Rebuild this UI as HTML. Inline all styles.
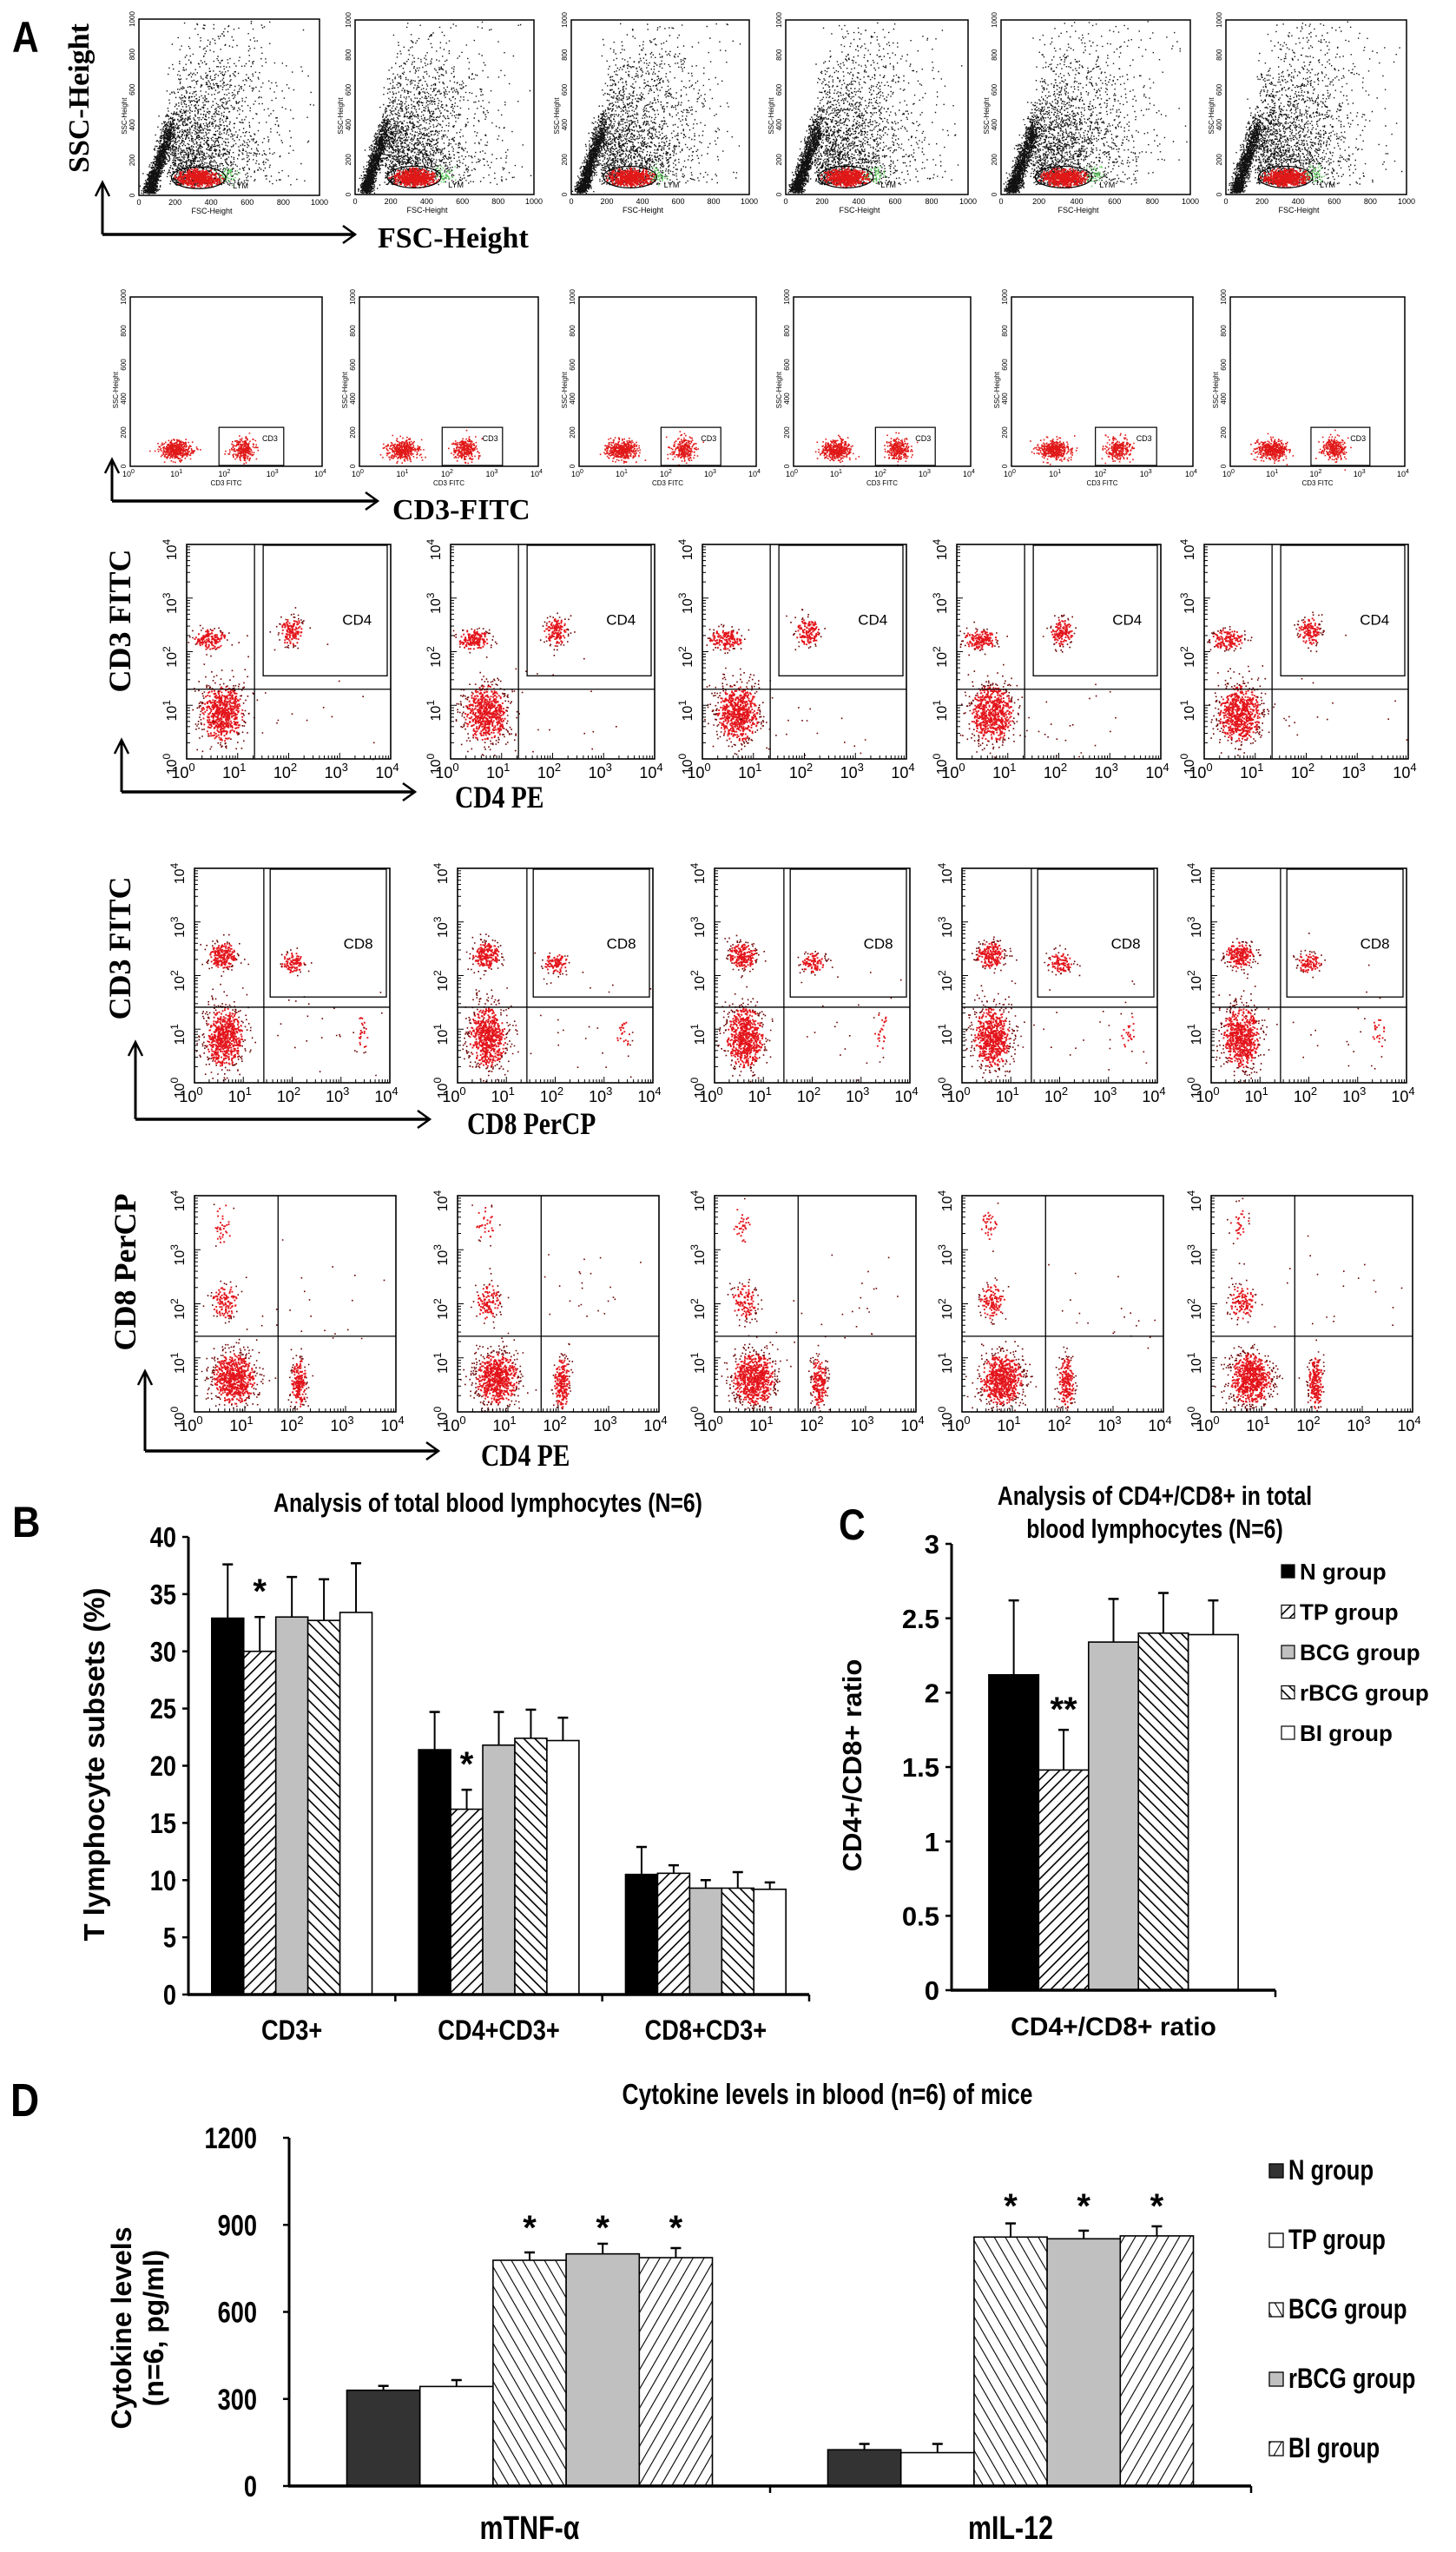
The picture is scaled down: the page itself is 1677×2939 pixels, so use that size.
<!DOCTYPE html>
<html><head><meta charset="utf-8"><title>Flow cytometry and T-cell / cytokine analysis</title>
<style>
html,body{margin:0;padding:0;background:#fff;}
svg{display:block;}
text{font-family:"Liberation Sans",Arial,sans-serif;}
.serif{font-family:"Liberation Serif","Times New Roman",serif;font-weight:bold;}
</style></head>
<body>
<svg id="root" xmlns="http://www.w3.org/2000/svg" width="1677" height="2939" viewBox="0 0 1677 2939">
<defs>
<pattern id="hFwd" width="9" height="9" patternUnits="userSpaceOnUse" patternTransform="rotate(45)"><rect width="9" height="9" fill="#fff"/><line x1="0" y1="0" x2="0" y2="9" stroke="#000" stroke-width="3.2"/></pattern>
<pattern id="hBack" width="9" height="9" patternUnits="userSpaceOnUse" patternTransform="rotate(-45)"><rect width="9" height="9" fill="#fff"/><line x1="0" y1="0" x2="0" y2="9" stroke="#000" stroke-width="3.2"/></pattern>
<pattern id="dFwd" width="11" height="11" patternUnits="userSpaceOnUse" patternTransform="rotate(30)"><rect width="11" height="11" fill="#fff"/><line x1="0" y1="0" x2="0" y2="11" stroke="#000" stroke-width="2.2"/></pattern>
<pattern id="dBack" width="11" height="11" patternUnits="userSpaceOnUse" patternTransform="rotate(-30)"><rect width="11" height="11" fill="#fff"/><line x1="0" y1="0" x2="0" y2="11" stroke="#000" stroke-width="2.2"/></pattern>
</defs>
</svg>
<script>
// ---------------- chart data ----------------
const groups = ['N group','TP group','BCG group','rBCG group','BI group'];
// Panel B
const bCategories = ['CD3+','CD4+CD3+','CD8+CD3+'];
const bN    = [32.9, 21.4, 10.5];
const bTP   = [30.0, 16.2, 10.6];
const bBCG  = [33.0, 21.8, 9.3];
const bRBCG = [32.7, 22.4, 9.3];
const bBI   = [33.4, 22.2, 9.2];
const bNErr    = [4.7, 3.3, 2.4];
const bTPErr   = [3.0, 1.7, 0.7];
const bBCGErr  = [3.5, 2.9, 0.7];
const bRBCGErr = [3.6, 2.5, 1.4];
const bBIErr   = [4.3, 2.0, 0.6];
const bTicks = [0,5,10,15,20,25,30,35,40];
const bStars = [[1,0,'*'],[1,1,'*']]; // [groupIndex, categoryIndex, label]
// Panel C
const cCategories = ['CD4+/CD8+ ratio'];
const cValues = [2.12, 1.48, 2.34, 2.40, 2.39];
const cErr    = [0.50, 0.27, 0.29, 0.27, 0.23];
const cTicks = [0,0.5,1,1.5,2,2.5,3];
const cTickLabels = ['0','0.5','1','1.5','2','2.5','3'];
// Panel D
const dCategories = ['mTNF-\u03b1','mIL-12'];
const dN    = [330, 125];
const dTP   = [343, 115];
const dBCG  = [778, 858];
const dRBCG = [800, 852];
const dBI   = [787, 862];
const dNErr    = [15, 20];
const dTPErr   = [22, 30];
const dBCGErr  = [27, 47];
const dRBCGErr = [35, 28];
const dBIErr   = [33, 33];
const dTicks = [0,300,600,900,1200];

// ---------------- helpers ----------------
const NS='http://www.w3.org/2000/svg';
const svg=document.getElementById('root');
function mk(tag,attrs,parent){const e=document.createElementNS(NS,tag);for(const k in attrs)e.setAttribute(k,attrs[k]);(parent||svg).appendChild(e);return e;}
function txt(x,y,s,size,opts){opts=opts||{};
  const t=mk('text',{x:x,y:y,'font-size':size,'text-anchor':opts.anchor||'start','font-weight':opts.weight||'bold',fill:opts.fill||'#000'},opts.parent);
  if(opts.cls)t.setAttribute('class',opts.cls);
  if(opts.rot!==undefined)t.setAttribute('transform','rotate('+opts.rot+' '+x+' '+y+')');
  if(opts.sx)t.setAttribute('transform','translate('+x+' '+y+') scale('+opts.sx+' 1) translate('+(-x)+' '+(-y)+')');
  t.textContent=s;return t;}
function line(x1,y1,x2,y2,w,parent,col){return mk('line',{x1:x1,y1:y1,x2:x2,y2:y2,stroke:col||'#000','stroke-width':w},parent);}
let seed=12345;
function rnd(){seed|=0;seed=seed+0x6D2B79F5|0;let t=Math.imul(seed^seed>>>15,1|seed);t=t+Math.imul(t^t>>>7,61|t)^t;return((t^t>>>14)>>>0)/4294967296;}
function gau(){let u=0,v=0;while(u===0)u=rnd();v=rnd();return Math.sqrt(-2*Math.log(u))*Math.cos(2*Math.PI*v);}
function dotPath(pts,color,sz,parent,name){let d='';for(const p of pts)d+='M'+p[0].toFixed(1)+' '+p[1].toFixed(1)+'h'+sz+'v'+sz+'h-'+sz+'z';
  const p=mk('path',{d:d,fill:color},parent);
  
  
  return p;}
function arrowH(x1,x2,y,parent){line(x1,y,x2,y,3.5,parent);mk('polyline',{points:(x2-14)+','+(y-10)+' '+x2+','+y+' '+(x2-14)+','+(y+10),fill:'none',stroke:'#000','stroke-width':2.5},parent);}
function arrowV(x,y1,y2,parent){line(x,y1,x,y2,3,parent);mk('polyline',{points:(x-8)+','+(y2+16)+' '+x+','+y2+' '+(x+8)+','+(y2+16),fill:'none',stroke:'#000','stroke-width':2.5},parent);}

// ---------------- Panel A ----------------
const gA=mk('g',{});


const la=txt(14,60,'A',50,{parent:gA,sx:0.85});



// Row 1 : FSC vs SSC
const row1Boxes=[[160,22,208,203],[409,23,206,201],[658,23,205,201],[905,23,210,201],[1153,23,218,201],[1412,23,208,201]];
row1Boxes.forEach((b,i)=>{
  const g=mk('g',{},gA);
  
  
  const [bx,by,bw,bh]=b;
  const px=v=>bx+v/1000*bw, py=v=>by+bh-v/1000*bh;
  const blk=[];
  for(let k=0;k<1500;k++){const u=Math.pow(rnd(),1.4);const x=55+u*120+gau()*18;const y=10+u*330+Math.abs(gau())*60*(0.3+u);if(x>2&&x<995&&y>2&&y<995)blk.push([px(x),py(y)]);}
  for(let k=0;k<2000;k++){const x=150+Math.abs(gau())*260+rnd()*60;const y=60+Math.abs(gau())*(200+x*0.5);if(x<995&&y<995)blk.push([px(x),py(y)]);}
  dotPath(blk,'#111',1.4,g,'scatter-dots');
  const red=[];
  for(let k=0;k<650;k++){const x=330+gau()*60,y=100+gau()*25;if(((x-330)/145)**2+((y-100)/58)**2<1)red.push([px(x),py(y)]);}
  dotPath(red,'#e01818',1.8,g,'lymphocyte-dots');
  const grn=[];for(let k=0;k<50;k++)grn.push([px(490+gau()*25),py(120+gau()*25)]);
  dotPath(grn,'#5c5',1.4,g,'green-dots');
  mk('ellipse',{cx:px(330),cy:py(100),rx:150/1000*bw,ry:62/1000*bh,fill:'none',stroke:'#000','stroke-width':1.2},g);
  txt(px(520),py(40),'LYM',9,{parent:g,weight:'normal'});
  mk('rect',{x:bx,y:by,width:bw,height:bh,fill:'none',stroke:'#000','stroke-width':1.5},g);
  [0,200,400,600,800,1000].forEach(v=>{txt(px(v),by+bh+11,String(v),9,{parent:g,anchor:'middle',weight:'normal'});
    txt(bx-5,py(v),String(v),8,{parent:g,anchor:'middle',weight:'normal',rot:-90});});
  txt(bx+bw/2-20,by+bh+21,'FSC-Height',9,{parent:g,anchor:'middle',weight:'normal'});
  txt(bx-14,py(450),'SSC-Height',8,{parent:g,anchor:'middle',weight:'normal',rot:-90});
});
const t1=txt(102,113,'SSC-Height',34,{parent:gA,anchor:'middle',rot:-90,cls:'serif'});


arrowV(118,270,210,gA);arrowH(118,409,270,gA);
const t2=txt(435,285,'FSC-Height',34,{parent:gA,cls:'serif'});



// Row 2 : CD3 vs SSC
const row2Boxes=[[150,342,221,195],[414,342,206,195],[667,342,204,195],[914,342,204,195],[1165,342,209,195],[1417,342,201,195]];
row2Boxes.forEach((b,i)=>{
  const g=mk('g',{},gA);
  
  
  const [bx,by,bw,bh]=b;
  const px=v=>bx+v/4*bw, py=v=>by+bh-v/1000*bh;
  const pts=[];
  for(let k=0;k<450;k++)pts.push([px(0.95+gau()*0.17),py(100+gau()*28)]);
  for(let k=0;k<280;k++)pts.push([px(2.35+gau()*0.13),py(105+gau()*32)]);
  dotPath(pts,'#e01818',1.6,g,'cd3-dots');
  mk('rect',{x:px(1.85),y:py(230),width:px(3.2)-px(1.85),height:py(5)-py(230),fill:'none',stroke:'#000','stroke-width':1.2},g);
  txt(px(2.75),py(150),'CD3',9,{parent:g,weight:'normal'});
  mk('rect',{x:bx,y:by,width:bw,height:bh,fill:'none',stroke:'#000','stroke-width':1.5},g);
  for(let d=0;d<=4;d++){const tt=txt(px(d)-2,by+bh+12,'10',9,{parent:g,anchor:'middle',weight:'normal'});
    const ts=mk('tspan',{dy:-4,'font-size':7},tt);ts.textContent=String(d);}
  [0,200,400,600,800,1000].forEach(v=>txt(bx-5,py(v),String(v),8,{parent:g,anchor:'middle',weight:'normal',rot:-90}));
  txt(bx+bw/2,by+bh+22,'CD3 FITC',8,{parent:g,anchor:'middle',weight:'normal'});
  txt(bx-14,py(450),'SSC-Height',8,{parent:g,anchor:'middle',weight:'normal',rot:-90});
});
arrowV(129,577,529,gA);arrowH(129,435,577,gA);
const t3=txt(452,598,'CD3-FITC',34,{parent:gA,cls:'serif'});



// Rows 3-5 : log-log quadrant plots
const quadRows=[
 {xs:[215,519,809,1102,1387],y:627,w:235,h:247,vq:1.33,hq:1.3,gate:[1.5,1.55],glabel:'CD4',
  clusters:[[0.68,0.86,0.22,0.28,700],[0.45,2.24,0.17,0.1,170],[2.05,2.38,0.12,0.14,150]],sparse:[2,0.8]},
 {xs:[224,527,823,1108,1395],y:1000,w:225,h:247,vq:1.42,hq:1.41,gate:[1.55,1.6],glabel:'CD8',
  clusters:[[0.6,0.86,0.2,0.3,700],[0.57,2.39,0.15,0.13,230],[2.0,2.25,0.13,0.1,110],[3.4,0.95,0.08,0.2,25]],sparse:[2.6,1.0]},
 {xs:[224,527,823,1108,1395],y:1377,w:232,h:249,vq:1.66,hq:1.4,gate:null,glabel:'',
  clusters:[[0.77,0.62,0.22,0.25,750],[2.06,0.55,0.08,0.25,220],[0.59,2.05,0.13,0.17,130],[0.55,3.5,0.1,0.2,35]],sparse:[2.5,2.0]}
];
quadRows.forEach((r,ri)=>{
  r.xs.forEach((bx,i)=>{
    const g=mk('g',{},gA);
    
    
    const by=r.y,bw=r.w,bh=r.h;
    const px=v=>bx+v/4*bw, py=v=>by+bh-v/4*bh;
    const pts=[],dark=[];
    r.clusters.forEach(c=>{for(let k=0;k<c[4];k++){const x=c[0]+gau()*c[2],y=c[1]+gau()*c[3];
      if(x>0.02&&x<3.98&&y>0.02&&y<3.98){const d=((x-c[0])/c[2])**2+((y-c[1])/c[3])**2;(d>3.5?dark:pts).push([px(x),py(y)]);}}});
    for(let k=0;k<25;k++)dark.push([px(r.sparse[0]+gau()*0.9),py(r.sparse[1]+gau()*0.6)]);
    dotPath(pts,'#e3141b',1.9,g,'event-dots');
    dotPath(dark.filter(p=>p[0]>bx&&p[0]<bx+bw&&p[1]>by&&p[1]<by+bh),'#6a0000',1.6,g,'sparse-event-dots');
    line(px(r.vq),by,px(r.vq),by+bh,1.3,g);
    line(bx,py(r.hq),bx+bw,py(r.hq),1.3,g);
    if(r.gate){mk('rect',{x:px(r.gate[0]),y:by+1,width:bx+bw-4-px(r.gate[0]),height:py(r.gate[1])-by-1,fill:'none',stroke:'#000','stroke-width':1.3},g);
      txt(px(3.05),py(2.5),r.glabel,17,{parent:g,weight:'normal'});}
    mk('rect',{x:bx,y:by,width:bw,height:bh,fill:'none',stroke:'#000','stroke-width':1.6},g);
    for(let d=0;d<4;d++)for(let m=1;m<10;m++){const v=d+Math.log10(m);const L=m===1?7:4;
      line(px(v),by+bh,px(v),by+bh-L,1,g);line(bx,py(v),bx+L,py(v),1,g);}
    for(let d=0;d<=4;d++){
      const t=txt(px(d)-4,by+bh+22,'10',18,{parent:g,anchor:'middle',weight:'normal'});
      const s=mk('tspan',{dy:-8,'font-size':13},t);s.textContent=String(d);
      const t2=txt(bx-12,py(d)+6,'10',16,{parent:g,anchor:'middle',weight:'normal',rot:-90});
      const s2=mk('tspan',{dy:-7,'font-size':12},t2);s2.textContent=String(d);
    }
  });
});
const rowTitles=[
 ['CD3 FITC',150,715,true],['CD4 PE',524,930,false],
 ['CD3 FITC',150,1092,true],['CD8 PerCP',538,1306,false],
 ['CD8 PerCP',156,1465,true],['CD4 PE',554,1688,false]];
rowTitles.forEach((r,i)=>{
  const t=r[3]?txt(r[1],r[2],r[0],36,{parent:gA,anchor:'middle',rot:-90,cls:'serif'}):txt(r[1],r[2],r[0],36,{parent:gA,cls:'serif',sx:0.82});
  
  
});
arrowV(140,912,852,gA);arrowH(140,478,912,gA);
arrowV(156,1289,1200,gA);arrowH(156,495,1289,gA);
arrowV(167,1671,1579,gA);arrowH(167,505,1671,gA);

// ---------------- generic bar chart ----------------
function barChart(cfg){
  const g=mk('g',{});
  
  
  const yS=v=>cfg.y0-(v-cfg.min)/(cfg.max-cfg.min)*(cfg.y0-cfg.yTop);
  const nc=cfg.categories.length, cw=(cfg.x1-cfg.x0)/nc;
  cfg.series.forEach((vals,si)=>{
    vals.forEach((v,ci)=>{
      const bw=cw*cfg.frac/cfg.series.length;
      const x=cfg.x0+cw*ci+cw*(1-cfg.frac)/2+si*bw;
      const top=yS(v);
      const rc=mk('rect',{x:x,y:top,width:bw,height:cfg.y0-top,fill:cfg.fills[si],stroke:'#000','stroke-width':1.6},g);
      
      
      const et=yS(v+cfg.errs[si][ci]);
      const eb=line(x+bw/2,top,x+bw/2,et,2,g);
      
      
      line(x+bw/2-6,et,x+bw/2+6,et,2.5,g);
      (cfg.stars||[]).forEach(s=>{if(s[0]===si&&s[1]===ci){
        const st=txt(x+bw/2,(s[3]!==undefined?s[3]:et-cfg.starGap)+22,s[2],cfg.starSize,{parent:g,anchor:'middle'});
        
        }});
    });
  });
  const ya=line(cfg.x0,cfg.y0+1,cfg.x0,cfg.yTop,3,g);
  
  
  const xa=line(cfg.x0-1,cfg.y0,cfg.x1,cfg.y0,3.5,g);
  
  
  cfg.ticks.forEach((v,i)=>{line(cfg.x0-7,yS(v),cfg.x0,yS(v),2.5,g);
    const tl=txt(cfg.x0-cfg.tickGap,yS(v)+cfg.tickSize*0.36,cfg.tickLabels?cfg.tickLabels[i]:String(v),cfg.tickSize,{parent:g,anchor:'end',sx:cfg.tickSx});
    
    });
  for(let c=1;c<=nc;c++)line(cfg.x0+cw*c,cfg.y0,cfg.x0+cw*c,cfg.y0+8,2.5,g);
  cfg.categories.forEach((c,ci)=>{
    const cl=txt(cfg.x0+cw*(ci+0.5),cfg.catY,c,cfg.catSize,{parent:g,anchor:'middle',sx:cfg.catSx});
    
    });
  return {g:g,yS:yS};
}

// Panel B
const pb=barChart({name:'panel-b-t-lymphocyte-chart',categories:bCategories,series:[bN,bTP,bBCG,bRBCG,bBI],
  errs:[bNErr,bTPErr,bBCGErr,bRBCGErr,bBIErr],fills:['#000','url(#hFwd)','#c0c0c0','url(#hBack)','#fff'],
  x0:217,x1:932,y0:2297,yTop:1770,min:0,max:40,frac:0.775,ticks:bTicks,tickSize:32,tickGap:14,tickSx:0.85,
  catY:2349,catSize:32,catSx:0.85,stars:bStars,starGap:38,starSize:40});
const lb=txt(14,1770,'B',50,{parent:pb.g,sx:0.9});


const bt=txt(562,1741,'Analysis of total blood lymphocytes (N=6)',31,{parent:pb.g,anchor:'middle',sx:0.8});


const by_=txt(120,2032,'T lymphocyte subsets (%)',33,{parent:pb.g,anchor:'middle',rot:-90});



// Panel C
const pc=barChart({name:'panel-c-ratio-chart',categories:cCategories,series:cValues.map(v=>[v]),
  errs:cErr.map(e=>[e]),fills:['#000','url(#hFwd)','#c0c0c0','url(#hBack)','#fff'],
  x0:1096,x1:1469,y0:2292,yTop:1778,min:0,max:3,frac:0.77,ticks:cTicks,tickLabels:cTickLabels,tickSize:31,tickGap:14,
  catY:2344,catSize:30,stars:[[1,0,'**']],starGap:32,starSize:40});
const lc=txt(966,1773,'C',50,{parent:pc.g,sx:0.85});


const ct1=txt(1330,1733,'Analysis of CD4+/CD8+ in total',31,{parent:pc.g,anchor:'middle',sx:0.8});


const ct2=txt(1330,1771,'blood lymphocytes (N=6)',31,{parent:pc.g,anchor:'middle',sx:0.8});


const cy_=txt(992,2033,'CD4+/CD8+ ratio',31,{parent:pc.g,anchor:'middle',rot:-90});


const cFills=['#000','url(#hFwd)','#c0c0c0','url(#hBack)','#fff'];
groups.forEach((gname,i)=>{
  const y=1810+i*46.5;
  const sq=mk('rect',{x:1476,y:y-8,width:15,height:15,fill:cFills[i],stroke:'#000','stroke-width':1.2},pc.g);
  
  
  const lt=txt(1497,y+9,gname,26,{parent:pc.g});
  
  
});

// Panel D
const dFills=['#333','#fff','url(#dBack)','#c0c0c0','url(#dFwd)'];
const pd=barChart({name:'panel-d-cytokine-chart',categories:dCategories,series:[dN,dTP,dBCG,dRBCG,dBI],
  errs:[dNErr,dTPErr,dBCGErr,dRBCGErr,dBIErr],fills:dFills,
  x0:333,x1:1441,y0:2863,yTop:2462,min:0,max:1200,frac:0.76,ticks:dTicks,tickSize:34,tickGap:37,tickSx:0.8,
  catY:2924,catSize:38,catSx:0.8,
  stars:[[2,0,'*',2557],[3,0,'*',2557],[4,0,'*',2557],[2,1,'*',2532],[3,1,'*',2532],[4,1,'*',2532]],starGap:35,starSize:40});
const ld=txt(12,2437,'D',54,{parent:pd.g,sx:0.85});


const dt=txt(953,2423,'Cytokine levels in blood (n=6) of mice',33,{parent:pd.g,anchor:'middle',sx:0.8});


const dy1=txt(151,2681,'Cytokine levels',32,{parent:pd.g,anchor:'middle',rot:-90});


const dy2=txt(188,2681,'(n=6, pg/ml)',32,{parent:pd.g,anchor:'middle',rot:-90});


groups.forEach((gname,i)=>{
  const y=2500+i*80;
  const sq=mk('rect',{x:1462,y:y-8,width:16,height:16,fill:dFills[i],stroke:'#000','stroke-width':1.3},pd.g);
  
  
  const lt=txt(1484,y+10,gname,32,{parent:pd.g,sx:0.8});
  
  
});
</script>
</body></html>
